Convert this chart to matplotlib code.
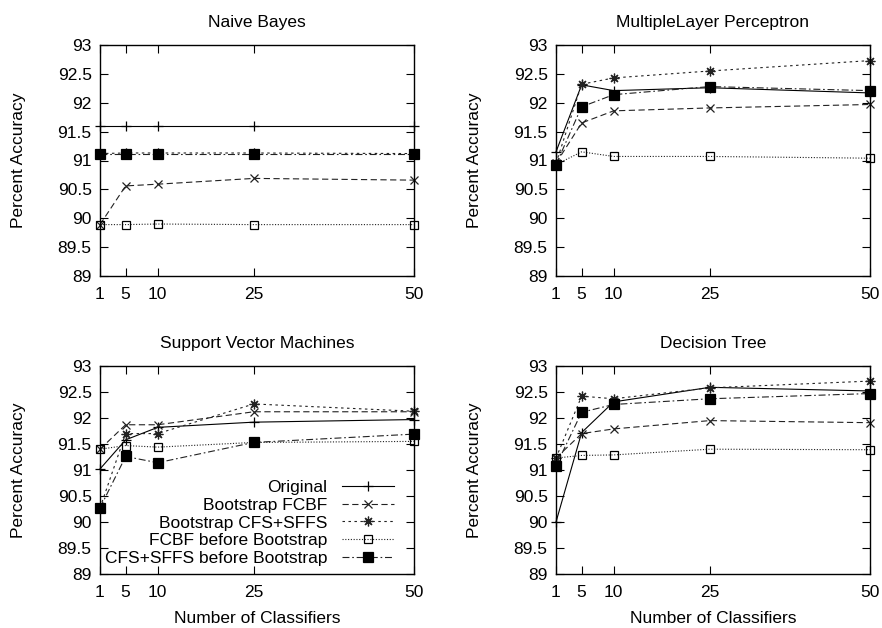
import matplotlib
matplotlib.use("Agg")
import matplotlib.pyplot as plt

plt.rcParams['font.family'] = ['Liberation Sans', 'DejaVu Sans']
plt.rcParams['lines.scale_dashes'] = False

x_vals = [1, 5, 10, 25, 50]
y_ticks = [89, 89.5, 90, 90.5, 91, 91.5, 92, 92.5, 93]
y_tick_labels = ["89", "89.5", "90", "90.5", "91", "91.5", "92", "92.5", "93"]

series_names = ["Original", "Bootstrap FCBF", "Bootstrap CFS+SFFS",
                "FCBF before Bootstrap", "CFS+SFFS before Bootstrap"]

titles = ["Naive Bayes", "MultipleLayer Perceptron",
          "Support Vector Machines", "Decision Tree"]

nb_original = [91.60, 91.60, 91.60, 91.60, 91.60]
nb_boot_fcbf = [89.89, 90.56, 90.59, 90.69, 90.66]
nb_boot_cfs = [91.12, 91.13, 91.13, 91.13, 91.12]
nb_fcbf_before = [89.89, 89.89, 89.90, 89.89, 89.89]
nb_cfs_before = [91.12, 91.12, 91.12, 91.12, 91.12]

mlp_original = [91.15, 92.31, 92.21, 92.26, 92.17]
mlp_boot_fcbf = [90.95, 91.65, 91.86, 91.91, 91.97]
mlp_boot_cfs = [90.95, 92.32, 92.43, 92.55, 92.73]
mlp_fcbf_before = [90.93, 91.15, 91.07, 91.07, 91.04]
mlp_cfs_before = [90.93, 91.93, 92.14, 92.28, 92.21]

svm_original = [91.02, 91.58, 91.82, 91.92, 91.97]
svm_boot_fcbf = [91.40, 91.87, 91.87, 92.12, 92.12]
svm_boot_cfs = [90.27, 91.70, 91.70, 92.27, 92.13]
svm_fcbf_before = [91.40, 91.47, 91.44, 91.53, 91.55]
svm_cfs_before = [90.27, 91.26, 91.14, 91.53, 91.69]

dt_original = [90.00, 91.72, 92.31, 92.59, 92.52]
dt_boot_fcbf = [91.23, 91.70, 91.79, 91.95, 91.91]
dt_boot_cfs = [91.23, 92.42, 92.37, 92.58, 92.71]
dt_fcbf_before = [91.23, 91.28, 91.29, 91.40, 91.39]
dt_cfs_before = [91.08, 92.11, 92.26, 92.37, 92.47]

panels = [
    [nb_original, nb_boot_fcbf, nb_boot_cfs, nb_fcbf_before, nb_cfs_before],
    [mlp_original, mlp_boot_fcbf, mlp_boot_cfs, mlp_fcbf_before, mlp_cfs_before],
    [svm_original, svm_boot_fcbf, svm_boot_cfs, svm_fcbf_before, svm_cfs_before],
    [dt_original, dt_boot_fcbf, dt_boot_cfs, dt_fcbf_before, dt_cfs_before],
]

styles = [
    dict(linestyle='-', marker='+', markersize=7, mfc='none', color='black', lw=0.8),
    dict(linestyle=(0, (4.5, 2.5)), marker='x', markersize=6, mfc='none', color='#222222', lw=0.8),
    dict(linestyle=(0, (1.8, 2.5)), marker=(8, 2, 0), markersize=7, mfc='none', color='#222222', lw=0.8),
    dict(linestyle=(0, (0.8, 1.2)), marker='s', markersize=6, mfc='none', mec='black', color='#222222', lw=0.8),
    dict(linestyle=(0, (5, 2, 1.2, 2)), marker='s', markersize=6.5, mfc='black', mec='black', color='#222222', lw=0.8),
]

W, H = 882, 628
fig = plt.figure(figsize=(W / 100, H / 100), dpi=100)

positions = [
    (100, 414, 45, 276),
    (556, 870, 45, 276),
    (100, 414, 366, 574),
    (556, 870, 366, 574),
]

fs = 12.5
for i, (l, r, t, b) in enumerate(positions):
    ax = fig.add_axes([l / W, 1 - b / H, (r - l) / W, (b - t) / H])
    for j, ys in enumerate(panels[i]):
        ax.plot(x_vals, ys, label=series_names[j], clip_on=False, mew=0.9, **styles[j])
    ax.set_xlim(1, 50)
    ax.set_ylim(89, 93)
    ax.set_xticks(x_vals)
    ax.set_xticklabels([str(v) for v in x_vals])
    ax.set_yticks(y_ticks)
    ax.set_yticklabels(y_tick_labels)
    ax.tick_params(direction='in', length=6, width=0.8, top=True, right=True,
                   labelsize=fs, pad=6)
    ax.tick_params(axis='x', pad=8)
    for sp in ax.spines.values():
        sp.set_linewidth(1.0)
    ax.set_title(titles[i], fontsize=fs, pad=13)
    ax.set_ylabel("Percent Accuracy", fontsize=fs)
    ax.yaxis.set_label_coords(-0.235, 0.5)
    if i >= 2:
        ax.set_xlabel("Number of Classifiers", fontsize=fs)
        ax.xaxis.set_label_coords(0.5, -0.178)
    if i == 2:
        leg = ax.legend(loc='lower right', bbox_to_anchor=(0.935, 0.04),
                        frameon=False, markerfirst=False, numpoints=1,
                        fontsize=fs, handlelength=2.95, handletextpad=0.85,
                        labelspacing=0.14, borderpad=0, borderaxespad=0)

fig.savefig("out.png", dpi=100)
